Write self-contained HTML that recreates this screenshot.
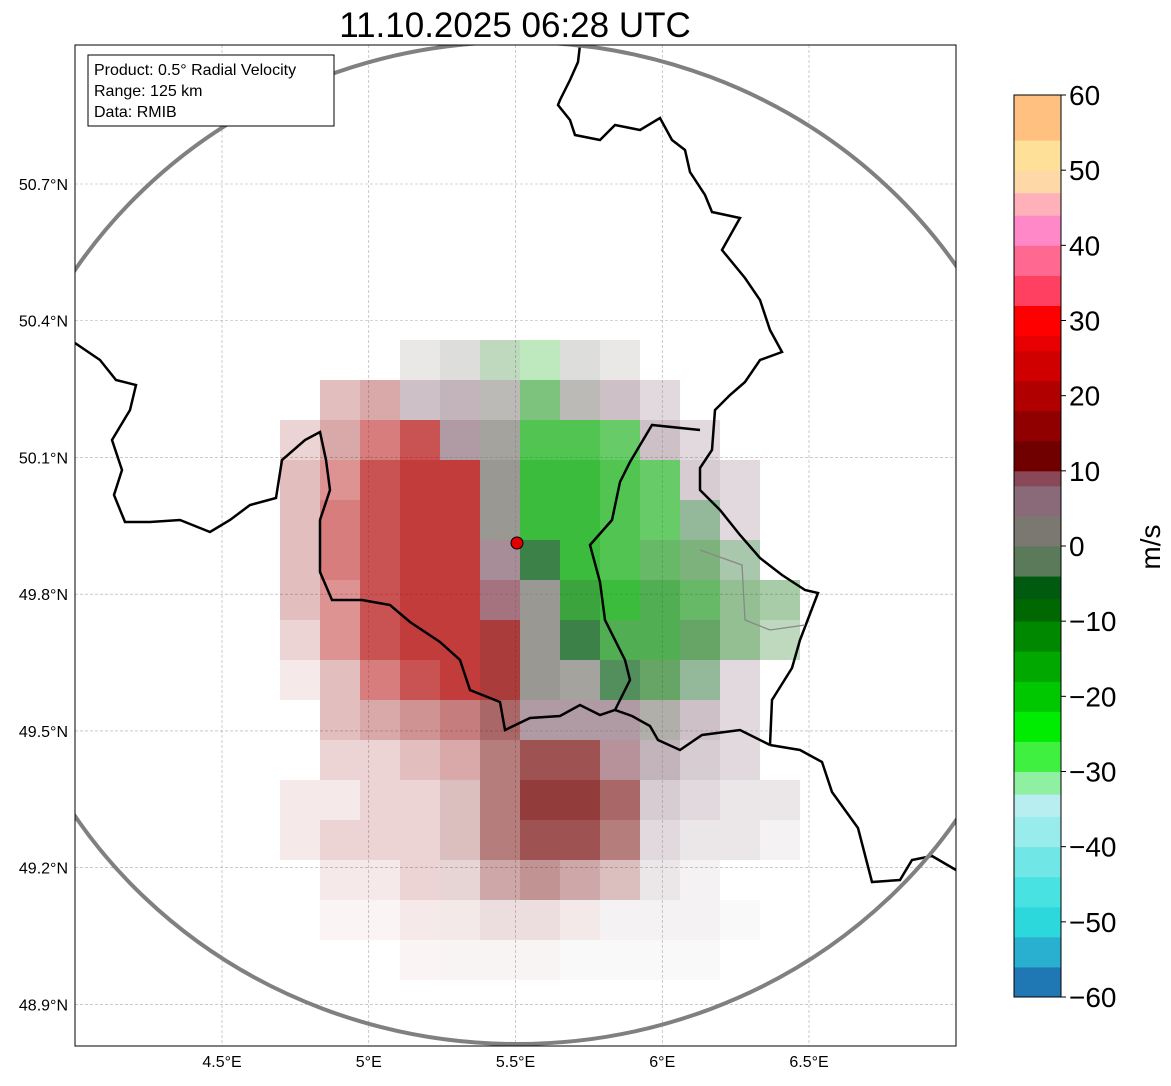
<!DOCTYPE html>
<html><head><meta charset="utf-8"><style>
body{margin:0;background:#fff;width:1171px;height:1081px;overflow:hidden;font-family:"Liberation Sans",sans-serif}
</style></head><body>
<svg id="svg" width="1171" height="1081" xmlns="http://www.w3.org/2000/svg" font-family="Liberation Sans, DejaVu Sans, sans-serif">
<text x="515" y="37" font-size="35" text-anchor="middle">11.10.2025 06:28 UTC</text>
<defs><clipPath id="clip"><rect x="75" y="45" width="881" height="1001"/></clipPath></defs>
<g id="grid"></g>
<g id="cells" clip-path="url(#clip)"></g>
<g clip-path="url(#clip)" fill="none">
<polyline stroke="#000" stroke-width="2.5" points="580,45 578,62 570,80 560,100 558,105 570,120 575,135 600,140 615,125 640,130 660,118 672,140 685,150 690,172 705,195 712,212 740,218 722,250 745,278 760,300 770,330 782,352 760,360 745,382 730,395 715,410 712,450 700,468 700,490 720,510 740,535 760,558 782,575 805,590 818,593 800,640 792,668 772,700 770,745"/>
<polyline stroke="#000" stroke-width="2.5" points="770,745 800,750 822,762 832,792 858,828 872,882 900,880 912,860 932,856 956,870"/>
<polyline stroke="#000" stroke-width="2.5" points="770,745 740,730 702,735 680,750 658,740 650,726 632,716 615,710 600,715 580,705 560,716 530,718 505,730 500,702 470,690 460,660 440,642 410,622 390,605 362,600 332,600 320,572 320,520 330,490 326,460 320,432 305,440 282,460 276,498 250,505 230,520 210,532 180,520 150,522 125,522 114,495 122,470 112,440 130,410 136,385 116,380 100,360 75,343"/>
<polyline stroke="#000" stroke-width="2.5" points="700,430 652,425 630,462 620,482 612,520 590,545 600,582 605,620 625,660 630,680 615,710"/>
<polyline stroke="#888" stroke-width="1.3" points="700,550 742,565 745,620 770,630 805,625"/>
</g>
<ellipse cx="517" cy="543" rx="527" ry="501" fill="none" stroke="#808080" stroke-width="4" clip-path="url(#clip)"/>
<circle cx="517" cy="543" r="6" fill="#e00000" stroke="#000" stroke-width="1"/>
<rect x="75" y="45" width="881" height="1001" fill="none" stroke="#000" stroke-width="1"/>
<g>
<rect x="88" y="55" width="246" height="71" fill="#fff" stroke="#000" stroke-width="1"/>
<text x="94" y="75" font-size="16">Product: 0.5° Radial Velocity</text>
<text x="94" y="96" font-size="16">Range: 125 km</text>
<text x="94" y="117" font-size="16">Data: RMIB</text>
</g>
<g id="axes" font-size="16"></g>
<g id="cbar"></g>
<text x="1160" y="547" font-size="28" text-anchor="middle" transform="rotate(-90 1160 547)">m/s</text>
</svg>
<script>
const NS="http://www.w3.org/2000/svg";
const latTicks=[50.7,50.4,50.1,49.8,49.5,49.2,48.9];
const lonTicks=[4.5,5,5.5,6,6.5];
const cbTicks=[60,50,40,30,20,10,0,-10,-20,-30,-40,-50,-60];
const cmapLevels=[-60,-56,-52,-48,-44,-40,-36,-33,-30,-26,-22,-18,-14,-10,-7,-4,0,4,8,10,14,18,22,26,28,32,36,40,44,47,50,54,60];
const cmapColors=["#1f77b4","#29b0d0","#2dd8dc","#48e2e2","#70e6e6","#98ecec","#b8eef0","#8ef0a0","#40f040","#00ec00","#00c800","#00a800","#008800","#006800","#005a10","#5a7a5a","#7a7870","#8a6a78","#884858","#700000","#900000","#b00000","#d00000","#e80000","#ff0000","#ff4060","#ff6890","#ff88c8","#ffb0b8","#ffd8a8","#ffe098","#ffc080","#ffa060"];
// coarse velocity field (m/s), 40px cells starting at x=280,y=340
const fieldV=[
[null,null,null,2,0,-10,-15,0,3,null,null,null,null,null],
[null,15,15,5,5,0,-12,0,5,5,null,null,null,null],
[15,15,18,18,5,0,-15,-15,-15,5,5,null,null,null],
[15,18,18,20,18,0,-15,-18,-18,-15,5,5,null,null],
[15,18,20,20,18,0,-15,-18,-18,-15,-5,5,null,null],
[15,18,20,20,18,5,-5,-15,-15,-12,-8,-5,null,null],
[15,18,20,20,18,8,0,-12,-15,-12,-12,-8,-8,null],
[15,18,18,20,20,15,0,-5,-12,-12,-10,-10,-8,null],
[15,15,18,18,18,15,2,0,-5,-8,-5,5,null,null],
[null,15,15,15,15,12,5,5,5,0,5,5,null,null],
[null,15,15,15,15,12,12,12,8,5,5,5,null,null],
[15,15,15,15,12,12,12,12,10,5,5,5,5,null],
[15,15,15,15,12,12,12,12,10,5,5,5,5,null],
[null,15,15,15,12,12,12,12,10,5,5,null,null,null],
[null,15,15,15,12,12,12,10,5,5,5,5,null,null],
[null,null,null,15,12,12,10,5,5,5,5,null,null,null]];
const fieldD=[
[0,0,0,.2,.3,.3,.3,.3,.2,0,0,0,0,0],
[.1,.3,.4,.5,.6,.6,.6,.6,.5,.3,0,0,0,0],
[.2,.4,.6,.8,.8,.8,.8,.8,.7,.5,.3,0,0,0],
[.3,.5,.8,.9,.9,.9,.9,.9,.8,.7,.4,.3,0,0],
[.3,.6,.8,.9,.9,.9,.9,.9,.8,.7,.5,.3,0,0],
[.3,.6,.8,.9,.9,.9,.9,.9,.8,.7,.6,.4,0,0],
[.3,.5,.8,.9,.9,.9,.9,.9,.9,.8,.7,.5,.4,0],
[.2,.5,.8,.9,.9,.9,.9,.9,.8,.8,.7,.5,.3,0],
[.1,.3,.6,.8,.9,.9,.9,.8,.8,.7,.5,.3,0,0],
[0,.3,.4,.5,.6,.7,.8,.8,.8,.7,.5,.3,0,0],
[0,.2,.2,.3,.4,.6,.8,.8,.7,.6,.4,.3,0,0],
[.1,.1,.2,.2,.3,.6,.9,.9,.7,.4,.3,.2,.2,0],
[.1,.2,.2,.2,.3,.6,.8,.8,.6,.3,.2,.2,.1,0],
[0,.1,.1,.2,.2,.4,.5,.4,.3,.2,.1,0,0,0],
[0,.05,.05,.1,.1,.15,.15,.1,.1,.1,.1,.05,0,0],
[0,0,0,.05,.05,.05,.05,.05,.05,.05,.05,0,0,0]];
const lonX=v=>222+(v-4.5)*293.5;
const latY=v=>184+(50.7-v)*455.8;
const cbY=v=>95+(60-v)*(902/120);
function colorFor(v){let c=cmapColors[0];for(let i=0;i<cmapLevels.length;i++){if(v>=cmapLevels[i])c=cmapColors[i];}return c;}
const grid=document.getElementById('grid'),axes=document.getElementById('axes'),cells=document.getElementById('cells'),cbar=document.getElementById('cbar');
latTicks.forEach(t=>{const y=latY(t);
 const l=document.createElementNS(NS,'line');l.setAttribute('x1',75);l.setAttribute('x2',956);l.setAttribute('y1',y);l.setAttribute('y2',y);l.setAttribute('stroke','#aaa');l.setAttribute('stroke-width','0.6');l.setAttribute('stroke-dasharray','3,2');
 
 
 grid.appendChild(l);
 const tx=document.createElementNS(NS,'text');tx.setAttribute('x',68);tx.setAttribute('y',y+6);tx.setAttribute('text-anchor','end');tx.textContent=t.toFixed(1)+'°N';
 
 
 axes.appendChild(tx);});
lonTicks.forEach(t=>{const x=lonX(t);
 const l=document.createElementNS(NS,'line');l.setAttribute('y1',45);l.setAttribute('y2',1046);l.setAttribute('x1',x);l.setAttribute('x2',x);l.setAttribute('stroke','#aaa');l.setAttribute('stroke-width','0.6');l.setAttribute('stroke-dasharray','3,2');
 
 
 grid.appendChild(l);
 const tx=document.createElementNS(NS,'text');tx.setAttribute('x',x);tx.setAttribute('y',1067);tx.setAttribute('text-anchor','middle');tx.textContent=(Number.isInteger(t)?t:t.toFixed(1))+'°E';
 
 
 axes.appendChild(tx);});
fieldV.forEach((row,r)=>row.forEach((v,c)=>{if(v===null)return;const d=fieldD[r][c];if(!d)return;
 const rc=document.createElementNS(NS,'rect');rc.setAttribute('x',280+c*40);rc.setAttribute('y',340+r*40);rc.setAttribute('width',40);rc.setAttribute('height',40);rc.setAttribute('fill',colorFor(v));rc.setAttribute('fill-opacity',d*0.85);
 
 
 cells.appendChild(rc);}));
for(let i=0;i<cmapLevels.length;i++){const lo=cmapLevels[i],hi=i+1<cmapLevels.length?cmapLevels[i+1]:60;if(hi<=lo)continue;
 const rc=document.createElementNS(NS,'rect');rc.setAttribute('x',1014);rc.setAttribute('width',47);rc.setAttribute('y',cbY(hi));rc.setAttribute('height',cbY(lo)-cbY(hi)+0.5);rc.setAttribute('fill',cmapColors[i]);
 
 
 cbar.appendChild(rc);}
const fr=document.createElementNS(NS,'rect');fr.setAttribute('x',1014);fr.setAttribute('y',95);fr.setAttribute('width',47);fr.setAttribute('height',902);fr.setAttribute('fill','none');fr.setAttribute('stroke','#000');


cbar.appendChild(fr);
cbTicks.forEach(t=>{const y=cbY(t);
 const l=document.createElementNS(NS,'line');l.setAttribute('x1',1061);l.setAttribute('x2',1066);l.setAttribute('y1',y);l.setAttribute('y2',y);l.setAttribute('stroke','#000');
 
 
 cbar.appendChild(l);
 const tx=document.createElementNS(NS,'text');tx.setAttribute('x',1069);tx.setAttribute('y',y+10);tx.setAttribute('font-size','28');tx.textContent=(t<0?'\u2212'+(-t):t);
 
 
 cbar.appendChild(tx);});
</script>
</body></html>
